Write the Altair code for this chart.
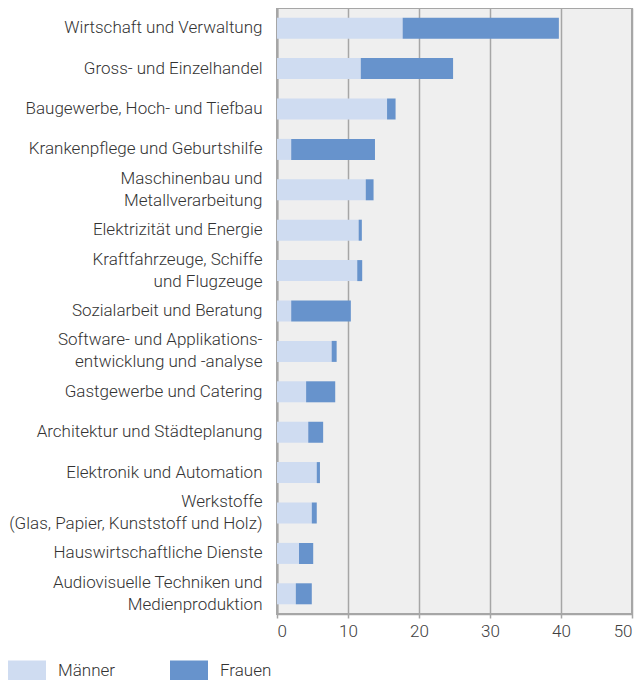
import altair as alt
import pandas as pd

categories = [
    "Wirtschaft und Verwaltung",
    "Gross- und Einzelhandel",
    "Baugewerbe, Hoch- und Tiefbau",
    "Krankenpflege und Geburtshilfe",
    "Maschinenbau und|Metallverarbeitung",
    "Elektrizität und Energie",
    "Kraftfahrzeuge, Schiffe|und Flugzeuge",
    "Sozialarbeit und Beratung",
    "Software- und Applikations-|entwicklung und -analyse",
    "Gastgewerbe und Catering",
    "Architektur und Städteplanung",
    "Elektronik und Automation",
    "Werkstoffe|(Glas, Papier, Kunststoff und Holz)",
    "Hauswirtschaftliche Dienste",
    "Audiovisuelle Techniken und|Medienproduktion",
]
maenner = [17.7, 11.8, 15.5, 2.0, 12.5, 11.5, 11.3, 2.0, 7.7, 4.1, 4.4, 5.6, 4.9, 3.1, 2.65]
frauen = [22.0, 13.0, 1.2, 11.8, 1.1, 0.45, 0.7, 8.4, 0.7, 4.1, 2.1, 0.45, 0.7, 2.0, 2.25]
series = ["Männer", "Frauen"]
x_ticks = [0, 10, 20, 30, 40, 50]

rows = []
for c, m, f in zip(categories, maenner, frauen):
    rows.append({"Beruf": c, "Geschlecht": "Männer", "Wert": m, "ord": 0})
    rows.append({"Beruf": c, "Geschlecht": "Frauen", "Wert": f, "ord": 1})
df = pd.DataFrame(rows)

FONT = "Roboto"

chart = (
    alt.Chart(df)
    .mark_bar()
    .encode(
        y=alt.Y(
            "Beruf:N",
            sort=categories,
            title=None,
            scale=alt.Scale(paddingInner=0.48, paddingOuter=0.24),
            axis=alt.Axis(
                labelExpr="split(datum.label, '|')",
                labelFont=FONT,
                labelFontSize=17,
                labelFontWeight=300,
                labelColor="#333333",
                labelPadding=15,
                labelLimit=0,
                labelLineHeight=22,
                labelOffset={
                    "condition": {"test": "indexof(datum.value, '|') >= 0", "value": -11},
                    "value": 0,
                },
                ticks=False,
                grid=False,
                domain=True,
                domainColor="#a6a6a6",
                domainWidth=2,
            ),
        ),
        x=alt.X(
            "Wert:Q",
            stack="zero",
            title=None,
            scale=alt.Scale(domain=[0, 50], nice=False),
            axis=alt.Axis(
                values=x_ticks,
                grid=True,
                gridColor="#a6a6a6",
                gridWidth=1.5,
                domainColor="#a6a6a6",
                domainWidth=1.5,
                tickColor="#a6a6a6",
                tickWidth=1.5,
                tickSize=4,
                labelFont=FONT,
                labelFontSize=17,
                labelFontWeight=300,
                labelColor="#404040",
                labelPadding=5,
            ),
        ),
        color=alt.Color(
            "Geschlecht:N",
            sort=series,
            scale=alt.Scale(domain=series, range=["#cfdcf1", "#6793cc"]),
            legend=alt.Legend(
                title=None,
                orient="none",
                legendX=-269,
                legendY=644,
                direction="horizontal",
                symbolType="M-1,-0.58H1V0.58H-1Z",
                symbolSize=1444,
                symbolStrokeWidth=0,
                symbolOpacity=1,
                labelFont=FONT,
                labelFontSize=17,
                labelFontWeight=300,
                labelColor="#333333",
                labelOffset=12,
                columnPadding=54,
            ),
        ),
        order=alt.Order("ord:Q"),
    )
    .properties(
        width=355,
        height=606,
        autosize=alt.AutoSizeParams(type="none"),
        padding={"left": 269, "top": 0, "right": 4, "bottom": 66},
    )
    .configure_view(fill="#efefef", stroke="#a6a6a6", strokeWidth=2)
)

chart.save("out.html", embed_options={"renderer": "svg", "actions": False})
